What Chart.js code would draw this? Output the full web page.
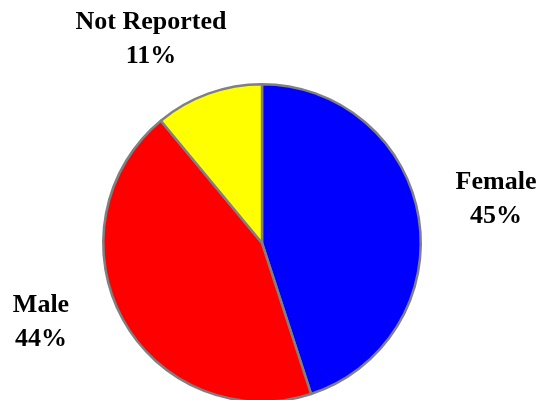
<!DOCTYPE html>
<html>
<head>
<meta charset="utf-8">
<script src="https://cdn.jsdelivr.net/npm/chart.js@4/dist/chart.umd.min.js"></script>
<style>
  html, body { margin: 0; padding: 0; background: #fff; overflow: hidden; }
  #wrap { position: relative; width: 540px; height: 406px; }
</style>
</head>
<body>
<div id="wrap"><canvas id="genderPie"></canvas></div>
<script>
const categories = ['Female', 'Male', 'Not Reported'];
const shares = [45, 44, 11];
const sliceColors = ['#0000ff', '#ff0000', '#ffff00'];

/* ── LABELS ── name + percent, placed relative to the pie centre */
const labelOffsets = [
  { dx: 234,  dy: -54 },
  { dx: -221, dy: 69 },
  { dx: -111, dy: -214 }
];

const sliceLabels = {
  id: 'sliceLabels',
  afterDraw(chart) {
    const ctx = chart.ctx;
    const arcs = chart.getDatasetMeta(0).data;
    ctx.save();
    ctx.font = 'bold 26px "Liberation Serif", "Times New Roman", serif';
    ctx.fillStyle = '#000';
    ctx.textAlign = 'center';
    ctx.textBaseline = 'alphabetic';
    arcs.forEach((arc, i) => {
      const o = labelOffsets[i];
      const x = arc.x + o.dx;
      const y = arc.y + o.dy;
      ctx.fillText(categories[i], x, y);
      ctx.fillText(shares[i] + '%', x, y + 33.5);
    });
    ctx.restore();
  }
};

new Chart(document.getElementById('genderPie'), {
  type: 'pie',
  data: {
    labels: categories,
    datasets: [{
      data: shares,
      backgroundColor: sliceColors,
      borderColor: '#808080',
      borderWidth: 2.5,
      hoverOffset: 0
    }]
  },
  options: {
    responsive: true,
    maintainAspectRatio: false,
    animation: false,
    layout: { padding: { left: 102, right: 118, top: 83, bottom: 3 } },
    plugins: { legend: { display: false }, tooltip: { enabled: false } }
  },
  plugins: [sliceLabels]
});
</script>
</body>
</html>
